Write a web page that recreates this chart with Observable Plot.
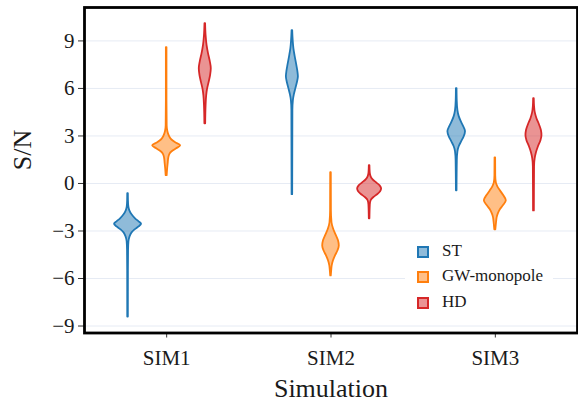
<!DOCTYPE html>
<html><head><meta charset="utf-8">
<script src="https://cdn.jsdelivr.net/npm/d3@7"></script>
<script src="https://cdn.jsdelivr.net/npm/@observablehq/plot@0.6"></script>
<style>
body{margin:0;background:#fff;}
#wrap{position:relative;width:578px;height:405px;font-family:"Liberation Serif",serif;overflow:hidden;}
#wrap svg{position:absolute;left:0;top:0;}
#legend{position:absolute;left:405px;top:236px;width:148px;height:82px;background:#fff;}
.item{position:absolute;left:12px;height:12px;font-size:17px;color:#1a1a1a;white-space:nowrap;}
.sw{position:absolute;left:0;top:0;width:12px;height:12px;box-sizing:border-box;border:2px solid;}
.lab{position:absolute;left:25px;top:-5px;line-height:20px;}
</style>
</head><body>
<div id="wrap"></div>
<script>
// ---- data ----
const simulations = ["SIM1", "SIM2", "SIM3"];
const seriesNames = ["ST", "GW-monopole", "HD"];
const seriesColors = ["#1f77b4", "#ff7f0e", "#d62728"];
const yTicks = [-9, -6, -3, 0, 3, 6, 9];

// violin profiles: [S/N value, density]
const ST_SIM1 = [[-0.65,0.3],[-1.09,0.4],[-1.47,0.8],[-1.73,1.8],[-1.98,4],[-2.23,7.5],[-2.42,11],[-2.58,13.5],[-2.74,11],[-2.93,7],[-3.12,4],[-3.37,2],[-3.68,0.9],[-4.25,0.5],[-5.51,0.35],[-8.43,0.3]];
const GW_SIM1 = [[8.58,0.3],[5.22,0.3],[3.65,0.5],[3.27,1.2],[3.02,2.5],[2.76,5],[2.57,9],[2.38,14],[2.19,10],[2.00,5.5],[1.81,3],[1.56,2],[1.25,1.5],[0.93,1],[0.49,0.5]];
const HD_SIM1 = [[10.09,0.3],[9.34,0.8],[8.70,1.8],[8.20,3.2],[7.69,5],[7.25,6],[6.81,5.3],[6.37,3.8],[5.92,2.2],[5.54,1.4],[4.91,0.8],[3.77,0.4]];
const ST_SIM2 = [[9.65,0.3],[9.02,0.8],[8.51,1.5],[8.01,2.8],[7.50,4.3],[7.06,5.5],[6.74,6],[6.36,5],[5.99,3.5],[5.61,2],[5.23,1],[4.60,0.5],[-0.71,0.3]];
const GW_SIM2 = [[0.68,0.3],[-1.74,0.4],[-2.48,1],[-2.86,2.5],[-3.24,5],[-3.62,7.5],[-3.94,8.3],[-4.25,7],[-4.57,4.5],[-4.88,2.5],[-5.20,1.2],[-5.51,0.7],[-5.83,0.3]];
const HD_SIM2 = [[1.12,0.3],[0.68,0.6],[0.42,1.5],[0.23,3.5],[0.04,7],[-0.15,10.5],[-0.34,12],[-0.52,11],[-0.71,8],[-0.90,4],[-1.09,1.5],[-1.35,0.7],[-2.23,0.3]];
const ST_SIM3 = [[5.99,0.3],[5.23,0.5],[4.60,1.2],[4.22,2.5],[3.84,5],[3.52,7.5],[3.27,8.8],[2.95,7.5],[2.64,5],[2.32,2.5],[2.00,1.2],[1.43,0.6],[-0.46,0.3]];
const GW_SIM3 = [[1.62,0.3],[0.49,0.4],[0.04,1],[-0.21,2.5],[-0.46,5],[-0.78,8.5],[-1.09,11],[-1.41,8],[-1.66,5],[-1.92,3],[-2.17,1.8],[-2.48,1.2],[-2.93,0.5]];
const HD_SIM3 = [[5.35,0.3],[4.85,0.6],[4.47,1.3],[4.09,3],[3.71,5.5],[3.33,7.5],[3.02,8],[2.70,7],[2.32,4.5],[1.94,2.5],[1.56,1.2],[1.06,0.6],[-1.73,0.4]];

// ---- build table ----
const profiles = [
  [ST_SIM1, GW_SIM1, HD_SIM1],
  [ST_SIM2, GW_SIM2, HD_SIM2],
  [ST_SIM3, GW_SIM3, HD_SIM3]
];
const seriesOffset = [-0.235, 0, 0.235];
const k = 3 / 493; // density -> x units
const rows = [];
profiles.forEach((sims, i) => sims.forEach((prof, s) => prof.forEach(([sn, d]) => {
  const c = i + seriesOffset[s];
  rows.push({key: simulations[i] + "|" + seriesNames[s], series: seriesNames[s], sn, x1: c - d * k, x2: c + d * k});
})));

const chart = Plot.plot({
  width: 578,
  height: 405,
  marginLeft: 84,
  marginRight: 1,
  marginTop: 7,
  marginBottom: 72.5,
  style: {fontFamily: "Liberation Serif, serif", fontSize: "21px", color: "#1a1a1a", background: "#fff"},
  x: {domain: [-0.5, 2.5], axis: null},
  y: {domain: [-9.44, 11.11], axis: null},
  color: {domain: seriesNames, range: seriesColors},
  marks: [
    Plot.gridY(yTicks, {stroke: "#e6ebf4", strokeOpacity: 1, strokeWidth: 1}),
    Plot.areaX(rows, {y: "sn", x1: "x1", x2: "x2", z: "key", fill: "series", fillOpacity: 0.5, stroke: "series", strokeWidth: 1.8, curve: "monotone-y"}),
    Plot.axisY(yTicks, {tickSize: 6, tickPadding: 4, fontSize: 21, label: null, stroke: "#333"}),
    Plot.axisX([0, 1, 2], {tickSize: 5, tickPadding: 12, fontSize: 21, label: null, tickFormat: i => simulations[i], stroke: "#333"}),
    Plot.frame({stroke: "#000", strokeWidth: 2.8}),
    Plot.text(["S/N"], {frameAnchor: "left", rotate: -90, dx: -62, fontSize: 26, lineAnchor: "middle"}),
    Plot.text(["Simulation"], {frameAnchor: "bottom", dy: 56, fontSize: 26, lineAnchor: "middle"})
  ]
});

const wrap = document.getElementById("wrap");
wrap.appendChild(chart);

const legend = document.createElement("div");
legend.id = "legend";
seriesNames.forEach((name, s) => {
  const item = document.createElement("div");
  item.className = "item";
  item.style.top = (10 + s * 25.3) + "px";
  const sw = document.createElement("div");
  sw.className = "sw";
  sw.style.borderColor = seriesColors[s];
  sw.style.background = d3.interpolateRgb("#fff", seriesColors[s])(0.5);
  const lab = document.createElement("span");
  lab.className = "lab";
  lab.textContent = name;
  item.appendChild(sw);
  item.appendChild(lab);
  legend.appendChild(item);
});
wrap.appendChild(legend);
</script>
</body></html>
